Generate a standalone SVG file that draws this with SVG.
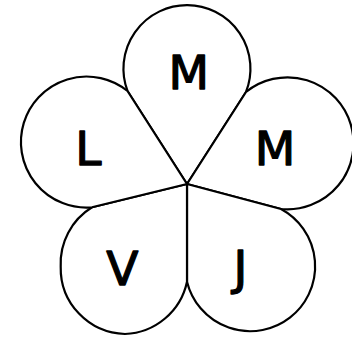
<svg xmlns="http://www.w3.org/2000/svg" width="352" height="338" viewBox="0 0 352 338">
<style>
.petal{fill:#fff;stroke:#000;stroke-width:2.2;stroke-linejoin:round}
.lbl{font-family:"DejaVu Sans","Open Sans",sans-serif;font-size:47px;fill:#000;stroke:#000;stroke-width:1.3;stroke-linejoin:round;text-anchor:middle}
</style>
<rect width="352" height="338" fill="#fff"/>
<g id="petal-mardi">
<path class="petal" d="M187 184 L127.5 91 A63.5 63.5 0 1 1 246 92 Z"/>
<text class="lbl" x="188.8" y="89">M</text>
</g>
<g id="petal-mercredi">
<path class="petal" d="M187 184 L246 92 A66 66 0 1 1 281 209 Z"/>
<text class="lbl" x="275" y="165">M</text>
</g>
<g id="petal-jeudi">
<path class="petal" d="M187 184 L281 209 A65 65 0 1 1 187 281.7 Z"/>
<text class="lbl" x="240.5" y="284">J</text>
</g>
<g id="petal-vendredi">
<path class="petal" d="M187 184 L187 281.7 A66 66 0 0 1 125 334 A66 66 0 0 1 60.7 266.7 A66 66 0 0 1 92 207.3 Z"/>
<text class="lbl" x="122.3" y="285">V</text>
</g>
<g id="petal-lundi">
<path class="petal" d="M187 184 L92 207.3 A65.5 65.5 0 1 1 127.5 91 Z"/>
<text class="lbl" x="88.3" y="165">L</text>
</g>
</svg>
